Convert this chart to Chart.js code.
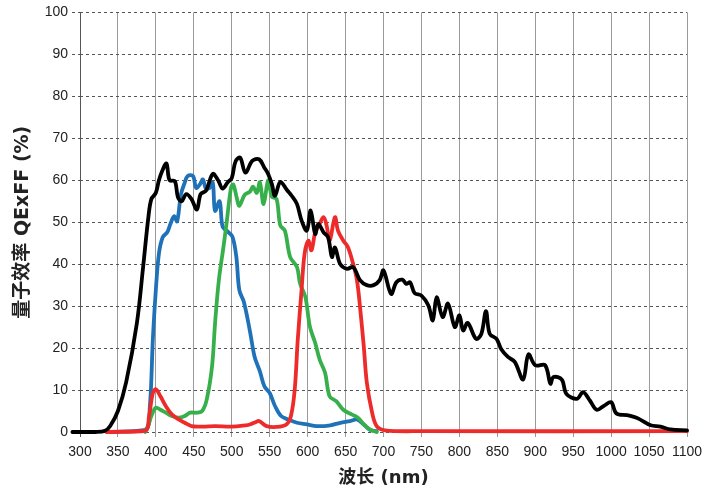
<!DOCTYPE html>
<html>
<head>
<meta charset="utf-8">
<script src="https://cdn.jsdelivr.net/npm/chart.js@4"></script>
<style>
  body { margin: 0; background: #fff; }
  #wrap { width: 717px; height: 494px; }
</style>
</head>
<body>
<div id="wrap"><canvas id="qeChart" width="717" height="494"></canvas></div>
<script>
// wavelengths (nm) and QE x FF (%)
var blackNm = [290, 300, 320, 333, 340, 350, 361, 375, 383, 390, 394, 400, 404, 409, 414, 418, 425, 429, 434, 440, 447, 454, 459, 466, 475, 482, 488, 495, 500, 505, 511, 518, 527, 536, 543, 548, 553, 557, 564, 573, 579, 586, 592, 599, 604, 610, 614, 621, 627, 632, 636, 643, 652, 660, 669, 678, 687, 695, 700, 710, 717, 725, 730, 735, 741, 750, 759, 765, 770, 778, 785, 794, 800, 805, 811, 822, 829, 835, 840, 849, 855, 864, 873, 884, 891, 900, 913, 920, 924, 935, 941, 955, 963, 972, 981, 991, 1000, 1007, 1021, 1030, 1036, 1052, 1065, 1078, 1100];
var blackQe = [0, 0, 0, 0.3, 1.5, 5, 12, 26, 39, 51, 55.5, 57, 60, 62.5, 64, 60, 59.8, 56, 55, 56.7, 55.5, 53, 56.7, 57.5, 61.5, 60, 58, 59.6, 60.5, 64.5, 65.4, 61.8, 64.6, 65, 63, 61.5, 59, 56.3, 59.6, 57.6, 56.3, 54.3, 50.4, 48, 52.8, 47.2, 49.6, 47.6, 46.4, 41.7, 44, 40, 38.9, 39.3, 36.2, 35, 35, 36.2, 38.5, 32.9, 35.7, 36.3, 35.3, 35.7, 33.1, 32.5, 30.2, 26.6, 32.1, 27.4, 30.6, 25, 27.8, 24.2, 26, 22.2, 23.4, 28.8, 23.4, 22.2, 19.8, 17.9, 16.7, 12.5, 18.5, 15.9, 15.9, 11.5, 13.1, 12.5, 9.1, 7.9, 9.5, 7.5, 5.3, 6.3, 7.1, 4.4, 4.0, 3.6, 3.2, 1.6, 1.3, 0.6, 0.4];

var blueNm = [340, 386, 392, 396, 400, 404, 409, 415, 419, 424, 428, 433, 438, 442, 449, 453, 458, 462, 466, 471, 475, 478, 484, 488, 495, 501, 506, 510, 516, 524, 530, 537, 543, 550, 557, 565, 574, 586, 599, 612, 630, 643, 656, 665, 674, 682, 691];
var blueQe = [0, 0.5, 6, 22, 34, 42.5, 46.4, 47.6, 49.5, 51.4, 50.2, 56.6, 59.4, 61, 61, 58.2, 59, 60.2, 58, 58.2, 59.4, 52.7, 55, 48.9, 47.7, 46.5, 41.8, 33.8, 31, 24, 18, 14.5, 10.9, 9.3, 6.2, 3.8, 3, 2.2, 1.8, 1.4, 1.6, 2.2, 2.6, 3, 1.8, 0.5, 0.2];

var greenNm = [386, 390, 394, 400, 406, 413, 421, 430, 438, 445, 454, 461, 467, 474, 478, 483, 489, 493, 499, 502, 507, 510, 517, 524, 528, 533, 537, 542, 548, 553, 559, 564, 570, 577, 586, 590, 597, 603, 610, 616, 623, 629, 638, 647, 658, 667, 674, 682, 691];
var greenQe = [0, 1.5, 3.8, 5.8, 5.3, 4.6, 3.8, 3.4, 3.8, 4.6, 4.6, 5, 7.7, 15.6, 25.9, 36.2, 44, 49.5, 58.2, 59, 55.5, 53.9, 56.5, 57.3, 58.5, 57, 59.5, 54.3, 60, 56, 55.6, 49.2, 48, 41.7, 39.3, 35.4, 32.2, 25.1, 21.2, 17.2, 14.1, 8.5, 7.3, 5.3, 4.2, 3.3, 1.8, 0.6, 0];

var redNm = [335, 386, 391, 396, 400, 406, 413, 421, 430, 438, 447, 461, 478, 500, 518, 524, 532, 536, 546, 559, 572, 578, 583, 587, 592, 596, 601, 605, 610, 614, 621, 625, 629, 636, 640, 647, 653, 660, 665, 669, 674, 678, 685, 691, 702, 750, 1100];
var redQe = [0, 0.3, 3.8, 9.3, 10.2, 8.5, 6.2, 4.2, 3, 2.2, 1.4, 1.3, 1.4, 1.3, 1.6, 1.8, 2.4, 2.6, 1.4, 1.2, 1.8, 3.8, 10.1, 22, 33.8, 42.5, 45.6, 43.3, 47.6, 48.9, 51.2, 49.2, 45.6, 51.2, 48, 45.6, 44.1, 40.1, 36.2, 29.9, 20.4, 11.8, 4.6, 1.4, 0.4, 0.2, 0.2];

var xTicks = [300, 350, 400, 450, 500, 550, 600, 650, 700, 750, 800, 850, 900, 950, 1000, 1050, 1100];
var yTicks = [0, 10, 20, 30, 40, 50, 60, 70, 80, 90, 100];

function toPoints(xs, ys) {
    var pts = [];
    for (var i = 0; i < xs.length; i++) {
        pts.push({ x: xs[i], y: ys[i] });
    }
    return pts;
}

function makeSet(label, xs, ys, color, order) {
    return {
        label: label,
        data: toPoints(xs, ys),
        borderColor: color,
        backgroundColor: color,
        borderWidth: 3.8,
        pointRadius: 0,
        tension: 0.35,
        borderJoinStyle: 'round',
        borderCapStyle: 'round',
        order: order,
        clip: { left: 10, top: 2, right: 2, bottom: 2 }
    };
}

var tickFont = { family: '"Liberation Sans", Arial, sans-serif', size: 14 };
var titleFamily = '"DejaVu Sans", "Noto Sans CJK SC", sans-serif';

var ctx = document.getElementById('qeChart').getContext('2d');

var myChart = new Chart(ctx, {
    type: 'line',
    data: {
        datasets: [
            makeSet('Mono', blackNm, blackQe, '#000000', 0),
            makeSet('R', redNm, redQe, '#ee2b2b', 1),
            makeSet('G', greenNm, greenQe, '#37b04c', 2),
            makeSet('B', blueNm, blueQe, '#1f72b8', 3)
        ]
    },
    options: {
        responsive: false,
        animation: false,
        layout: { padding: { top: 10, right: 30, bottom: 2, left: 0 } },
        plugins: {
            legend: { display: false },
            tooltip: { enabled: false }
        },
        scales: {
            x: {
                type: 'linear',
                min: 300,
                max: 1100,
                afterFit: function(scale) { scale.height = 60; },
                afterBuildTicks: function(scale) {
                    scale.ticks = xTicks.map(function(v) { return { value: v }; });
                },
                grid: {
                    color: function(c) { return c.tick && c.tick.value === 300 ? '#555' : '#9a9a9a'; },
                    lineWidth: 1,
                    tickLength: 5
                },
                border: { display: false },
                ticks: {
                    color: '#222',
                    font: tickFont,
                    padding: 7,
                    maxRotation: 0,
                    autoSkip: false,
                    callback: function(v) { return String(v); }
                },
                title: {
                    display: true,
                    text: '波长 (nm)',
                    color: '#222',
                    font: { family: titleFamily, size: 18, weight: 'bold' },
                    padding: { top: 0, bottom: 3 }
                }
            },
            y: {
                min: 0,
                max: 100,
                afterFit: function(scale) { scale.width = 80; },
                afterBuildTicks: function(scale) {
                    scale.ticks = yTicks.map(function(v) { return { value: v }; });
                },
                grid: {
                    color: '#555',
                    lineWidth: 1,
                    tickLength: 8,
                    tickBorderDash: [3, 3]
                },
                border: { display: false, dash: [3, 3] },
                ticks: {
                    color: '#222',
                    font: tickFont,
                    padding: 4,
                    callback: function(v) { return String(v); }
                },
                title: {
                    display: true,
                    text: '量子效率 QExFF (%)',
                    color: '#222',
                    font: { family: titleFamily, size: 19, weight: 'bold' },
                    padding: { top: 12, bottom: 0 }
                }
            }
        }
    }
});
</script>
</body>
</html>
